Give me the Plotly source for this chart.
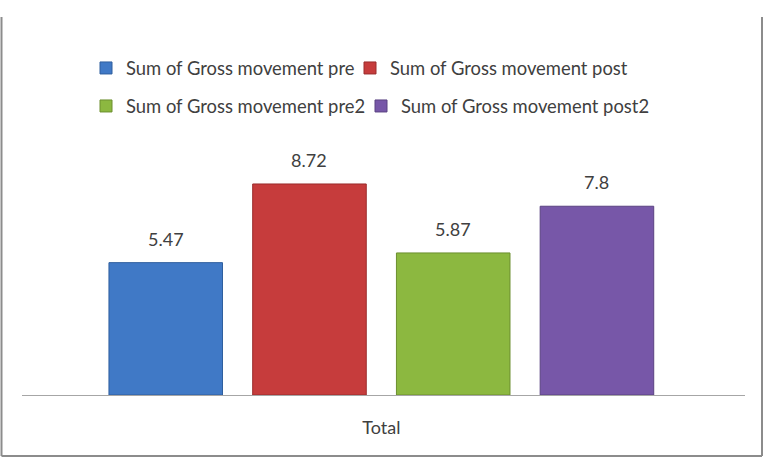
import plotly.graph_objects as go

# ---- data ----
series_names = [
    "Sum of Gross movement pre",
    "Sum of Gross movement post",
    "Sum of Gross movement pre2",
    "Sum of Gross movement post2",
]
series_values = [5.47, 8.72, 5.87, 7.8]
category_labels = ["Total"]
value_labels = ["5.47", "8.72", "5.87", "7.8"]

# ---- styles ----
colors = ["#4079C6", "#C63C3C", "#8CB840", "#7757A8"]
edge_colors = ["#2F5F9E", "#9A2C2C", "#6C8F2E", "#5A4282"]
FONT = "Lato"
W, H = 769, 460
ML, MR, MT, MB = 22, 24, 153, 65
PW, PH = W - ML - MR, H - MT - MB


def px_x(p):
    return (p - ML) / PW


def px_y(p):
    return (H - MB - p) / PH


fig = go.Figure()
legend_ids = ["legend", "legend2", "legend3", "legend4"]
for i, (name, val) in enumerate(zip(series_names, series_values)):
    fig.add_trace(
        go.Bar(
            x=[i],
            y=[val],
            name=name,
            width=0.79,
            marker=dict(color=colors[i], line=dict(color=edge_colors[i], width=1)),
            legend=legend_ids[i],
            showlegend=True,
        )
    )
    fig.add_annotation(
        x=i,
        y=val,
        text=value_labels[i],
        showarrow=False,
        yanchor="middle",
        yshift=24,
        font=dict(family=FONT, size=18, color="#404040"),
    )

# legends: positions (pixel) of each entry
leg_pos = [(86, 68), (350, 68), (86, 106), (361, 106)]
leg_layout = {}
for lid, (lx, ly) in zip(legend_ids, leg_pos):
    leg_layout[lid] = dict(
        x=px_x(lx),
        y=px_y(ly),
        xanchor="left",
        yanchor="middle",
        orientation="h",
        bgcolor="rgba(0,0,0,0)",
        font=dict(family=FONT, size=18.4, color="#404040"),
        itemwidth=30,
    )

# frame lines (left, right, bottom) - top edge cropped in reference
frame = dict(color="#8C8C8C", width=2)
shapes = [
    dict(type="line", xref="paper", yref="paper", x0=px_x(1.5), x1=px_x(1.5), y0=px_y(17), y1=px_y(456), line=frame),
    dict(type="line", xref="paper", yref="paper", x0=px_x(762), x1=px_x(762), y0=px_y(17), y1=px_y(456), line=frame),
    dict(type="line", xref="paper", yref="paper", x0=px_x(1.5), x1=px_x(762), y0=px_y(456), y1=px_y(456), line=frame),
]

fig.update_layout(
    width=W,
    height=H,
    margin=dict(l=ML, r=MR, t=MT, b=MB),
    paper_bgcolor="white",
    plot_bgcolor="white",
    barmode="overlay",
    shapes=shapes,
    font=dict(family=FONT, color="#404040"),
    **leg_layout,
)
fig.update_xaxes(
    range=[-1.0, 4.03],
    tickvals=[1.5],
    ticktext=category_labels,
    showline=True,
    linecolor="#A6A6A6",
    linewidth=1,
    showgrid=False,
    zeroline=False,
    ticks="",
    ticklabelstandoff=16,
    tickfont=dict(family=FONT, size=18, color="#404040"),
    fixedrange=True,
)
fig.update_yaxes(
    range=[0, 10],
    visible=False,
    showgrid=False,
    zeroline=False,
    fixedrange=True,
)

fig.write_html("out.html")
